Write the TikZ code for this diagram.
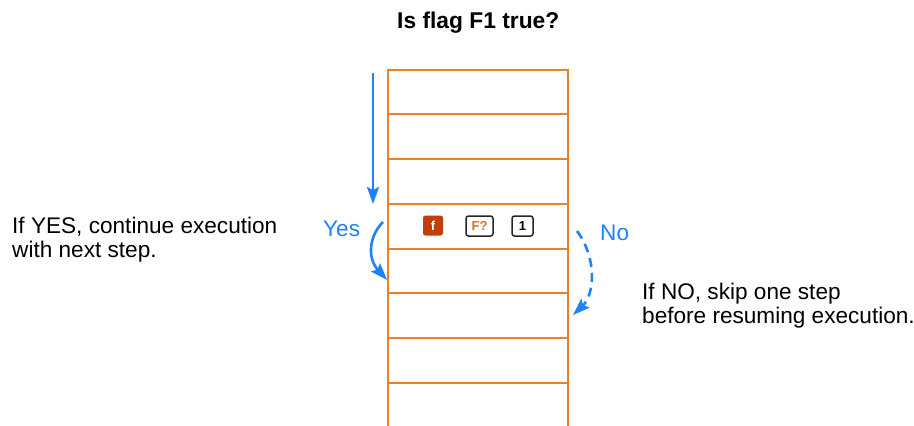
\documentclass[tikz,border=0pt]{standalone}
\usepackage{fontspec}
\setmainfont{Liberation Sans}
\usetikzlibrary{arrows.meta}
\definecolor{rowline}{HTML}{E8822A}
\definecolor{flowblue}{HTML}{1E82FF}
\definecolor{fkeyfill}{HTML}{C23E0C}
\definecolor{keytext}{HTML}{D9701E}
\tikzset{
  boxline/.style={draw=rowline, line width=2pt},
  flow/.style={draw=flowblue, line width=2.6pt, -{Stealth[length=17pt,width=12pt,inset=3pt]}},
  keybase/.style={rounded corners=2.5pt, inner sep=0pt, minimum height=20pt, font=\fontsize{13}{14}\selectfont\bfseries},
  fkey/.style={keybase, fill=fkeyfill, text=white, minimum width=20pt},
  okey/.style={keybase, draw=black!85, line width=1.5pt, fill=white},
  lbl/.style={inner sep=0pt, font=\fontsize{22.6}{24}\selectfont, align=left},
  bluelbl/.style={inner sep=0pt, font=\fontsize{22.6}{24}\selectfont, text=flowblue},
}
\begin{document}
\begin{tikzpicture}[x=1pt,y=-1pt]
\useasboundingbox[fill=white] (0,0) rectangle (914,426);
% title
\node[inner sep=0pt, anchor=base west, font=\fontsize{22.8}{24}\selectfont\bfseries] (title) at (397,28) {Is flag F1 true?};
% program memory box
\draw[boxline] (388,430) -- (388,70) -- (568,70) -- (568,430);
\foreach \y in {114,159,204,249,293,338,383}
  \draw[boxline] (388,\y) -- (568,\y);
% keys
\node[fkey] (kf) at (433,225.5) {f};
\node[okey, minimum width=27pt, text=keytext] (kF) at (479.5,226) {F?};
\node[okey, minimum width=21pt, text=black] (k1) at (522.5,226) {1};
% arrows
\coordinate (vs) at (373,73);
\coordinate (ve) at (373,204);
\draw[flow] (vs) -- (ve);
\coordinate (ys) at (383,222);
\coordinate (ye) at (387,280);
\draw[flow] (ys) .. controls (369,236) and (367,258) .. (ye);
\coordinate (ns) at (577,231);
\coordinate (ne) at (573,315);
\draw[flow, dash pattern=on 9pt off 6pt] (ns) .. controls (597,258) and (595,294) .. (ne);
% labels
\node[bluelbl, anchor=base west] (yes) at (323,236) {Yes};
\node[bluelbl, anchor=base west] (no) at (600,240) {No};
\node[lbl, anchor=north west] (ytext) at (12,216.6) {If YES, continue execution\\with next step.};
\node[lbl, anchor=north west] (ntext) at (642,282.6) {If NO, skip one step\\before resuming execution.};
\end{tikzpicture}
\end{document}
